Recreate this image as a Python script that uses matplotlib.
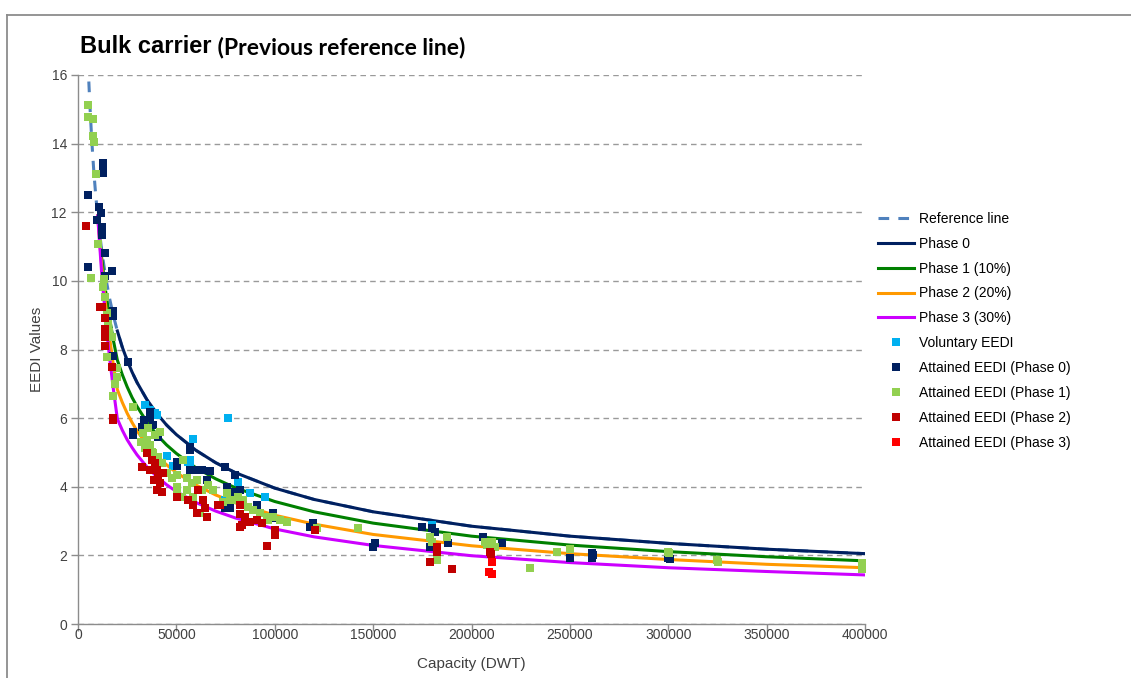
import matplotlib
matplotlib.use("Agg")
import matplotlib.pyplot as plt
from matplotlib.lines import Line2D

plt.rcParams['font.family'] = ['Liberation Sans', 'DejaVu Sans']

# reference line (drawn over the whole range)
ref_x = [5500, 6000, 7000, 8000, 9000, 10000, 12000, 14000, 16000, 18000, 20000, 22500,
         25000, 27500, 30000, 35000, 40000, 45000, 50000, 60000, 70000, 80000, 100000,
         120000, 150000, 200000, 250000, 300000, 350000, 400000]
ref_y = [15.81, 15.17, 14.09, 13.22, 12.50, 11.89, 10.90, 10.13, 9.50, 8.98, 8.54, 8.07,
         7.68, 7.34, 7.04, 6.54, 6.14, 5.80, 5.52, 5.06, 4.70, 4.41, 3.96,
         3.63, 3.27, 2.85, 2.56, 2.35, 2.18, 2.05]

# phase 0 starts at 20000 DWT
p0_x = [20000, 22500, 25000, 27500, 30000, 35000, 40000, 45000, 50000, 60000, 70000, 80000,
        100000, 120000, 150000, 200000, 250000, 300000, 350000, 400000]
p0_y = [8.54, 8.07, 7.68, 7.34, 7.04, 6.54, 6.14, 5.80, 5.52, 5.06, 4.70, 4.41,
        3.96, 3.63, 3.27, 2.85, 2.56, 2.35, 2.18, 2.05]

# phases 1-3 start at 10000 DWT
ph_x = [10000, 12000, 14000, 16000, 18000, 20000, 22500, 25000, 27500, 30000, 35000, 40000,
        45000, 50000, 60000, 70000, 80000, 100000, 120000, 150000, 200000, 250000, 300000,
        350000, 400000]
p1_y = [11.89, 10.68, 9.72, 8.93, 8.26, 7.69, 7.27, 6.91, 6.60, 6.34, 5.89, 5.52,
        5.22, 4.97, 4.55, 4.23, 3.97, 3.57, 3.27, 2.94, 2.56, 2.30, 2.11, 1.96, 1.84]
p2_y = [11.89, 10.46, 9.32, 8.36, 7.54, 6.83, 6.46, 6.14, 5.87, 5.63, 5.23, 4.91,
        4.64, 4.41, 4.05, 3.76, 3.53, 3.17, 2.91, 2.61, 2.28, 2.05, 1.88, 1.74, 1.64]
p3_y = [11.89, 10.24, 8.91, 7.79, 6.83, 5.98, 5.65, 5.37, 5.14, 4.93, 4.58, 4.30,
        4.06, 3.86, 3.54, 3.29, 3.09, 2.77, 2.54, 2.29, 1.99, 1.79, 1.64, 1.53, 1.43]

vol_x = [34100, 36600, 39100, 40000, 45100, 48100, 56100, 56900, 56900, 58600, 76400,
         74700, 81500, 87400, 95100, 179800]
vol_y = [6.38, 6.25, 6.15, 6.10, 4.90, 4.60, 4.73, 4.78, 4.63, 5.38, 6.01,
         3.61, 4.15, 3.83, 3.69, 2.89]

att0_x = [4900, 12900, 12600, 12900, 10800, 11700, 9800, 12000, 12000, 13700, 5100, 17100,
          13700, 17900, 17900, 17600, 25600,
          28100, 28100, 32400, 33500, 36600, 36600, 38300, 40500, 56900, 56900, 50200, 50200,
          56900, 61200, 63000, 65400, 67000, 75600, 74700, 74700, 79800, 75600, 78900, 77300,
          82400, 90800, 99300, 99300, 117900, 119600,
          151000, 150100, 174700, 179800, 181500, 188200, 178900, 206000, 215400, 250100,
          261100, 261100, 262000, 300100, 300900]
att0_y = [12.50, 13.43, 13.14, 13.30, 12.16, 11.97, 11.78, 11.58, 11.35, 10.80, 10.41, 10.30,
          10.14, 9.13, 8.98, 7.81, 7.65,
          5.60, 5.50, 5.75, 5.95, 6.19, 6.00, 5.80, 5.45, 5.17, 5.07, 4.73, 4.60,
          4.49, 4.49, 4.50, 4.20, 4.45, 3.81, 3.37, 4.58, 4.34, 4.00, 3.86, 3.37,
          3.91, 3.47, 3.23, 3.10, 2.84, 2.93,
          2.35, 2.25, 2.84, 2.80, 2.69, 2.35, 2.25, 2.54, 2.37, 1.93,
          2.06, 1.93, 2.00, 1.91, 1.90]

att1_x = [5200, 5200, 7800, 7500, 8300, 9100, 10300, 6400, 12500, 13000, 13700, 14600, 15200,
          16000, 17100, 14600, 19700, 19700, 18800, 18000, 27800,
          32000, 33200, 34900, 35500, 36600, 34100, 37500, 38300, 40800, 39100, 41700, 42500,
          45100, 47600, 50200, 50200, 52700, 55300, 57800, 60300, 62900, 66200, 68800, 53500,
          50200, 55300, 58600, 62000,
          73900, 75600, 77300, 79000, 81500, 84000, 86600, 89100, 92500, 95900, 99300, 102700,
          106100, 96700, 121300, 142500,
          178900, 187400, 179800, 182300, 206900, 210300, 208000, 212000, 229800, 243300,
          250100, 300100, 300600, 324700, 325500, 398400, 398400, 399500]
att1_y = [15.13, 14.79, 14.71, 14.22, 14.06, 13.11, 11.08, 10.08, 9.83, 10.05, 9.54, 9.06, 8.75,
          8.50, 8.37, 7.79, 7.46, 7.20, 7.00, 6.65, 6.33,
          5.30, 5.56, 5.36, 5.70, 5.22, 5.12, 5.00, 4.97, 4.88, 5.51, 5.60, 4.68,
          4.39, 4.25, 4.00, 3.81, 3.71, 4.25, 4.10, 4.20, 3.91, 4.05, 3.91, 4.78,
          4.34, 3.91, 3.71, 3.23,
          3.56, 3.81, 3.60, 3.61, 3.71, 3.61, 3.42, 3.32, 3.23, 3.13, 3.13, 3.03,
          2.98, 3.03, 2.79, 2.79,
          2.54, 2.54, 2.40, 1.87, 2.40, 2.40, 2.30, 2.25, 1.64, 2.11,
          2.20, 2.11, 2.08, 1.87, 1.80, 1.78, 1.60, 1.70]

att2_x = [4100, 11200, 12100, 13700, 13700, 13700, 13700, 17100, 17600, 17900,
          32400, 34900, 36500, 37500, 38500, 39100, 40000, 40800, 41700, 40000, 42500, 43000,
          50200, 56100, 58600, 61200, 63700, 64600, 60300, 65400, 71300, 72200,
          82400, 82400, 82400, 84900, 87400, 90800, 93400, 83200, 100100, 100100, 95900, 120500,
          182300, 182300, 178900, 190000, 209400, 210000]
att2_y = [11.60, 9.25, 9.25, 8.91, 8.60, 8.35, 8.10, 7.48, 6.00, 5.95,
          4.58, 4.97, 4.50, 4.78, 4.20, 4.68, 4.49, 4.29, 4.10, 3.91, 3.86, 4.40,
          3.71, 3.61, 3.47, 3.91, 3.61, 3.37, 3.23, 3.13, 3.47, 3.47,
          3.47, 3.20, 2.84, 3.13, 2.98, 3.03, 2.93, 2.89, 2.74, 2.60, 2.27, 2.74,
          2.25, 2.10, 1.82, 1.59, 2.11, 2.05]

att3_x = [210300, 209100, 210500]
att3_y = [1.82, 1.52, 1.47]

x_ticks = [0, 50000, 100000, 150000, 200000, 250000, 300000, 350000, 400000]
y_ticks = [0, 2, 4, 6, 8, 10, 12, 14, 16]


def main():
    fig = plt.figure(figsize=(11.31, 6.78), dpi=100)
    ax = fig.add_axes([78 / 1131, 54 / 678, 787 / 1131, 549 / 678])

    ax.plot(ref_x, ref_y, color='#4F81BD', lw=2.2, linestyle=(0, (3.5, 3)), label='Reference line')
    ax.plot(p0_x, p0_y, color='#002060', lw=2.2, label='Phase 0')
    ax.plot(ph_x, p1_y, color='#008000', lw=2.2, label='Phase 1 (10%)')
    ax.plot(ph_x, p2_y, color='#FF9900', lw=2.2, label='Phase 2 (20%)')
    ax.plot(ph_x, p3_y, color='#CC00FF', lw=2.2, label='Phase 3 (30%)')

    ms = 5.6
    ax.plot(vol_x, vol_y, 's', color='#00B0F0', ms=ms, mew=0, label='Voluntary EEDI')
    ax.plot(att0_x, att0_y, 's', color='#002060', ms=ms, mew=0, label='Attained EEDI (Phase 0)')
    ax.plot(att1_x, att1_y, 's', color='#92D050', ms=ms, mew=0, label='Attained EEDI (Phase 1)')
    ax.plot(att2_x, att2_y, 's', color='#C00000', ms=ms, mew=0, label='Attained EEDI (Phase 2)')
    ax.plot(att3_x, att3_y, 's', color='#FF0000', ms=ms, mew=0, label='Attained EEDI (Phase 3)')

    ax.set_xlim(0, 400000)
    ax.set_ylim(0, 16)
    ax.set_xticks(x_ticks)
    ax.set_xticklabels([str(t) for t in x_ticks])
    ax.set_yticks(y_ticks)

    for s in ['top', 'right']:
        ax.spines[s].set_visible(False)
    for s in ['left', 'bottom']:
        ax.spines[s].set_color('#8c8c8c')
        ax.spines[s].set_linewidth(1.0)
    ax.tick_params(axis='both', colors='#8c8c8c', labelcolor='#404040', labelsize=10,
                   length=5, width=1.0, direction='out')
    ax.tick_params(axis='x', pad=-2)
    ax.tick_params(axis='y', pad=3)
    ax.grid(axis='y', color='#9a9a9a', linestyle=(0, (4, 3)), lw=1.0)
    ax.set_axisbelow(True)

    ax.set_xlabel('Capacity (DWT)', fontsize=11, color='#404040', labelpad=11)
    ax.set_ylabel('EEDI Values', fontsize=11, color='#404040', labelpad=5)

    t1 = fig.text(80 / 1131, 1 - 53 / 678, 'Bulk carrier', fontsize=17, fontweight='bold',
                  family=['Liberation Sans', 'DejaVu Sans'], ha='left', va='baseline')
    ax.annotate(' (Previous reference line)', xy=(1, 0), xycoords=t1, fontsize=16.5,
                fontweight='bold', family=['Lato', 'DejaVu Sans'], ha='left', va='bottom')

    ax.legend(loc='upper left', bbox_to_anchor=(878 / 1131, 1 - 212 / 678),
              bbox_transform=fig.transFigure, frameon=False, fontsize=10,
              handlelength=2.6, handletextpad=0.35, labelspacing=0.78,
              borderaxespad=0, borderpad=0)

    # frame lines of the original chart area
    fig.add_artist(Line2D([7 / 1131, 1], [1 - 14.5 / 678] * 2, transform=fig.transFigure,
                          color='#8c8c8c', lw=1.3))
    fig.add_artist(Line2D([7 / 1131] * 2, [0, 1 - 14.5 / 678], transform=fig.transFigure,
                          color='#8c8c8c', lw=1.3))

    fig.savefig('out.png', dpi=100)


if __name__ == "__main__":
    main()
